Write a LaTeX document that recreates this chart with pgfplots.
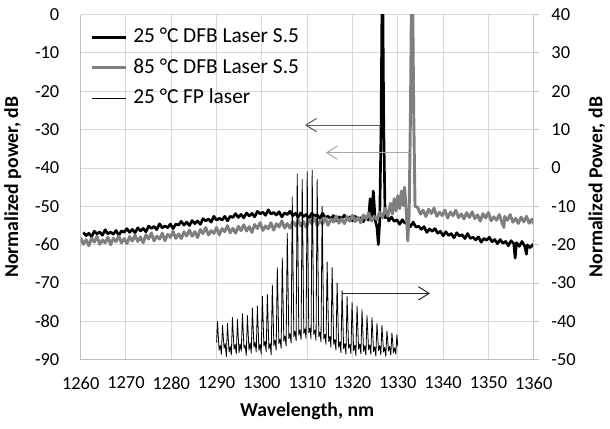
\documentclass[border=0pt]{standalone}
\usepackage{pgfplots}
\pgfplotsset{compat=1.18}
\usepackage{fontspec}
\setmainfont{Carlito}
\usetikzlibrary{arrows.meta}
\definecolor{gridgray}{HTML}{D9D9D9}
\definecolor{axisgray}{HTML}{BFBFBF}
\definecolor{hot}{HTML}{7F7F7F}
\newcommand\tickfont{\fontsize{13.8}{16}\selectfont}
\newcommand\labfont{\bfseries\fontsize{14.8}{17}\selectfont}
\newcommand\legfont{\fontsize{16}{18}\selectfont}

% DFB laser at 25 C (left axis)
\pgfplotstableread{
x y
1260.6 -56.8
1261.2 -57.65
1261.8 -57.0
1262.4 -57.95
1263.0 -56.5
1263.6 -57.15
1264.2 -56.7
1264.8 -57.55
1265.4 -56.1
1266.0 -57.15
1266.6 -56.7
1267.2 -57.25
1267.8 -56.3
1268.4 -57.55
1269.0 -56.4
1269.6 -56.75
1270.2 -55.8
1270.8 -56.8
1271.4 -56.0
1272.0 -56.9
1272.6 -55.6
1273.2 -56.4
1273.8 -55.75
1274.4 -56.65
1275.0 -55.15
1275.6 -55.75
1276.2 -55.25
1276.8 -56.05
1277.4 -54.55
1278.0 -55.6
1278.6 -55.1
1279.2 -55.6
1279.8 -54.6
1280.4 -55.8
1281.0 -54.6
1281.6 -54.9
1282.2 -53.9
1282.8 -54.9
1283.4 -54.1
1284.0 -55.0
1284.6 -53.7
1285.2 -54.5
1285.8 -53.8
1286.4 -54.7
1287.0 -53.2
1287.6 -53.8
1288.2 -53.3
1288.8 -54.1
1289.4 -52.6
1290.0 -53.6
1290.6 -53.1
1291.2 -53.6
1291.8 -52.6
1292.4 -53.8
1293.0 -52.6
1293.6 -52.9
1294.2 -51.9
1294.8 -52.9
1295.4 -52.1
1296.0 -53.0
1296.6 -51.7
1297.2 -52.5
1297.8 -51.8
1298.4 -52.75
1299.0 -51.3
1299.6 -51.95
1300.2 -51.5
1300.8 -52.35
1301.4 -50.9
1302.0 -52.0
1302.6 -51.6
1303.2 -52.25
1303.8 -51.4
1304.4 -52.75
1305.0 -51.7
1305.6 -52.15
1306.2 -51.3
1306.8 -52.45
1307.4 -51.8
1308.0 -52.85
1308.6 -51.7
1309.2 -52.65
1309.8 -52.1
1310.4 -53.15
1311.0 -51.8
1311.6 -52.55
1312.2 -52.2
1312.8 -53.15
1313.4 -51.8
1314.0 -52.95
1314.6 -52.6
1315.2 -53.25
1315.8 -52.4
1316.4 -53.75
1317.0 -52.7
1317.6 -53.15
1318.2 -52.3
1318.8 -53.4
1319.4 -52.75
1320.0 -53.8
1320.6 -52.6
1321.2 -53.55
1321.8 -53.0
1322.4 -54.0
1323.0 -52.65
1323.5 -53.6
1323.9 -48.0
1324.2 -53.0
1324.6 -46.0
1325.0 -53.5
1325.4 -55.5
1325.7 -60.0
1326.0 -54.0
1326.3 -30.0
1326.5 2.0
1326.7 2.0
1326.9 -30.0
1327.2 -53.0
1327.6 -52.0
1328.0 -53.8
1328.6 -52.8
1329.2 -53.9
1329.8 -53.5
1330.4 -54.7
1331.0 -53.5
1331.6 -54.4
1332.2 -54.2
1332.8 -55.3
1333.4 -54.1
1334.0 -55.4
1334.6 -55.2
1335.2 -56.0
1335.8 -55.3
1336.4 -56.8
1337.0 -55.9
1337.6 -56.5
1338.2 -55.8
1338.8 -57.0
1339.4 -56.5
1340.0 -57.7
1340.6 -56.6
1341.2 -57.6
1341.8 -57.1
1342.4 -58.2
1343.0 -56.9
1343.6 -57.7
1344.2 -57.4
1344.8 -58.4
1345.4 -57.1
1346.0 -58.35
1346.6 -58.05
1347.2 -58.75
1347.8 -57.95
1348.4 -59.35
1349.0 -58.35
1349.6 -58.85
1350.2 -58.05
1350.8 -59.25
1351.4 -58.65
1352.0 -59.75
1352.6 -58.65
1353.2 -59.65
1353.8 -59.15
1354.4 -60.25
1355.0 -58.95
1355.6 -59.75
1355.9 -63.5
1356.2 -59.45
1356.8 -60.45
1357.4 -59.15
1358.0 -60.35
1358.4 -62.5
1358.6 -60.05
1359.2 -60.75
1359.8 -59.95
1360.0 -60.6
}\dfbcold

% DFB laser at 85 C (left axis)
\pgfplotstableread{
x y
1260.0 -58.2
1260.6 -59.9
1261.2 -58.7
1261.8 -60.3
1262.4 -58.3
1263.0 -59.35
1263.6 -57.8
1264.2 -59.9
1264.8 -58.75
1265.4 -59.55
1266.0 -58.0
1266.6 -60.0
1267.2 -58.35
1267.8 -59.2
1268.4 -57.7
1269.0 -59.55
1269.6 -58.4
1270.2 -59.7
1270.8 -57.9
1271.4 -59.05
1272.0 -57.5
1272.6 -59.15
1273.2 -58.0
1273.8 -59.5
1274.4 -57.45
1275.0 -58.5
1275.6 -56.95
1276.2 -59.0
1276.8 -57.8
1277.4 -58.55
1278.0 -57.0
1278.6 -58.95
1279.2 -57.3
1279.8 -58.1
1280.4 -56.55
1281.0 -58.35
1281.6 -57.2
1282.2 -58.4
1282.8 -56.65
1283.4 -57.75
1284.0 -56.2
1284.6 -57.8
1285.2 -56.6
1285.8 -58.15
1286.4 -56.05
1287.0 -57.1
1287.6 -55.5
1288.2 -57.5
1288.8 -56.35
1289.4 -57.05
1290.0 -55.5
1290.6 -57.45
1291.2 -55.8
1291.8 -56.6
1292.4 -55.05
1293.0 -56.9
1293.6 -55.75
1294.2 -57.0
1294.8 -55.2
1295.4 -56.35
1296.0 -54.8
1296.6 -56.45
1297.2 -55.3
1297.8 -56.8
1298.4 -54.75
1299.0 -55.8
1299.6 -54.25
1300.2 -56.3
1300.8 -55.1
1301.4 -55.85
1302.0 -54.3
1302.6 -56.2
1303.2 -54.55
1303.8 -55.4
1304.4 -53.8
1305.0 -55.65
1305.6 -54.5
1306.2 -55.7
1306.8 -53.95
1307.4 -55.1
1308.0 -53.5
1308.6 -55.15
1309.2 -54.0
1309.8 -55.5
1310.4 -53.45
1311.0 -54.5
1311.6 -52.95
1312.2 -55.0
1312.8 -53.8
1313.4 -54.55
1314.0 -53.0
1314.6 -54.95
1315.2 -53.3
1315.8 -54.1
1316.4 -52.55
1317.0 -54.4
1317.6 -53.25
1318.2 -54.5
1318.8 -52.7
1319.4 -53.85
1320.0 -52.3
1320.6 -53.95
1321.2 -52.8
1321.8 -54.3
1322.4 -52.25
1323.0 -53.3
1323.6 -51.75
1324.2 -53.8
1324.8 -52.6
1325.4 -53.5
1326.0 -51.5
1326.6 -53.0
1327.2 -50.5
1327.8 -52.6
1328.4 -49.2
1328.8 -52.0
1329.2 -48.0
1329.6 -51.2
1330.0 -47.2
1330.4 -50.6
1330.8 -46.0
1331.2 -49.8
1331.5 -45.0
1331.9 -52.0
1332.2 -59.0
1332.5 -52.0
1332.8 -25.0
1333.0 2.0
1333.3 2.0
1333.5 -25.0
1333.8 -50.0
1334.4 -50.3
1335.0 -52.05
1335.6 -51.0
1336.2 -52.65
1336.8 -50.75
1337.4 -51.9
1338.0 -50.45
1338.6 -52.6
1339.2 -51.55
1339.8 -52.4
1340.4 -51.0
1341.0 -53.05
1341.6 -51.5
1342.2 -52.45
1342.8 -51.0
1343.4 -52.95
1344.0 -51.95
1344.6 -53.3
1345.2 -51.65
1345.8 -52.9
1346.4 -51.45
1347.0 -53.2
1347.6 -52.2
1348.2 -53.85
1348.8 -51.9
1349.4 -53.05
1350.0 -51.6
1350.6 -53.75
1351.2 -52.75
1351.8 -53.6
1352.4 -52.15
1353.0 -54.2
1353.4 -55.5
1353.6 -52.65
1354.2 -53.6
1354.8 -52.15
1355.4 -54.15
1356.0 -53.1
1356.6 -54.45
1357.2 -52.8
1357.8 -54.05
1358.4 -52.6
1359.0 -54.4
1359.6 -53.35
1360.0 -54.6
}\dfbhot

\begin{document}
\begin{tikzpicture}
\begin{axis}[
    scale only axis,
    width=339.75pt, height=258.75pt,
    xmin=1260, xmax=1360, ymin=-90, ymax=0,
    axis x line*=bottom, axis y line*=left,
    axis line style={draw=axisgray, line width=0.75pt, -},
    xtick={1260,1270,1280,1290,1300,1310,1320,1330,1340,1350,1360},
    xticklabels={1260,1270,1280,1290,1300,1310,1320,1330,1340,1350,1360},
    ytick={-90,-80,-70,-60,-50,-40,-30,-20,-10,0},
    yticklabels={-90,-80,-70,-60,-50,-40,-30,-20,-10,0},
    major tick length=0pt,
    grid=major,
    major grid style={draw=gridgray, line width=0.75pt},
    tick label style={font=\tickfont},
    xticklabel style={yshift=-9.3pt},
    yticklabel style={xshift=-12.5pt},
    xlabel={Wavelength, nm},
    ylabel={Normalized power, dB},
    xlabel style={at={(axis description cs:0.5,-0.1488)}, anchor=center, font=\labfont},
    ylabel style={at={(axis description cs:-0.150,0.5)}, anchor=center, font=\labfont},
]
\addplot[black, line width=2pt, line join=round] table[x=x, y=y] {\dfbcold};
\addplot[hot, line width=2.2pt, line join=round] table[x=x, y=y] {\dfbhot};
\coordinate (bl) at (rel axis cs:0,0);
\coordinate (tr) at (rel axis cs:1,1);
\end{axis}

\begin{axis}[
    scale only axis,
    width=339.75pt, height=258.75pt,
    xmin=1260, xmax=1360, ymin=-50, ymax=40,
    axis x line=none, axis y line*=right,
    axis line style={draw=axisgray, line width=0.75pt, -},
    ytick={-50,-40,-30,-20,-10,0,10,20,30,40},
    yticklabels={-50,-40,-30,-20,-10,0,10,20,30,40},
    tick align=outside,
    major tick length=3.75pt,
    ytick style={draw=axisgray, line width=0.75pt},
    tick label style={font=\tickfont},
    yticklabel style={xshift=6pt},
    ylabel={Normalized Power, dB},
    ylabel style={at={(axis description cs:1.139,0.5)}, anchor=center, font=\labfont},
    legend style={at={(axis description cs:0.022,0.966)}, anchor=north west, draw=none, fill=none,
        font=\legfont, row sep=6.5pt, inner sep=0pt,
        nodes={inner sep=0.6pt, text height=11.5pt, text depth=3.5pt},
        /tikz/every odd column/.append style={column sep=3.5pt}},
    legend cell align=left,
    legend image code/.code={\draw[#1] (0pt,0pt) -- (25.5pt,0pt);},
]
\addlegendimage{black, line width=2pt}
\addlegendentry{25 °C DFB Laser S.5}
\addlegendimage{hot, line width=2.2pt}
\addlegendentry{85 °C DFB Laser S.5}
% Fabry-Perot laser at 25 C (right axis)
\addplot[black, line width=0.6pt, line join=round] coordinates {
(1290.0,-45.5)(1290.2,-40.0)(1290.55,-47.5)(1290.8,-46.2)(1291.05,-48.6)
(1291.3,-41.0)(1291.65,-47.0)(1291.9,-45.8)(1292.15,-49.2)
(1292.4,-40.5)(1292.75,-48.0)(1293.0,-46.5)(1293.25,-48.8)
(1293.5,-39.0)(1293.85,-47.3)(1294.1,-46.0)(1294.35,-48.5)
(1294.6,-39.5)(1294.95,-48.2)(1295.2,-45.9)(1295.45,-47.8)
(1295.7,-38.0)(1296.05,-47.0)(1296.3,-46.2)(1296.55,-48.9)
(1296.8,-38.5)(1297.15,-47.5)(1297.4,-45.6)(1297.65,-48.3)
(1297.9,-36.5)(1298.25,-46.8)(1298.5,-45.4)(1298.75,-48.0)
(1299.0,-36.0)(1299.35,-47.6)(1299.6,-45.9)(1299.85,-48.6)
(1300.1,-33.5)(1300.45,-46.5)(1300.7,-45.2)(1300.95,-47.9)
(1301.2,-33.0)(1301.55,-47.2)(1301.8,-45.8)(1302.05,-48.7)
(1302.3,-30.5)(1302.65,-46.3)(1302.9,-44.9)(1303.15,-47.5)
(1303.4,-26.0)(1303.75,-45.8)(1304.0,-44.6)(1304.25,-47.0)
(1304.5,-23.5)(1304.85,-45.2)(1305.1,-43.8)(1305.35,-46.4)
(1305.6,-17.0)(1305.95,-44.5)(1306.2,-43.2)(1306.45,-45.6)
(1306.7,-7.5)(1307.05,-44.0)(1307.3,-42.5)(1307.55,-45.0)
(1307.8,-1.5)(1308.15,-43.6)(1308.4,-42.2)(1308.65,-44.8)
(1308.9,-3.0)(1309.25,-43.2)(1309.5,-42.0)(1309.75,-44.5)
(1310.0,-1.0)(1310.35,-43.0)(1310.6,-41.8)(1310.85,-44.6)
(1311.1,-0.5)(1311.45,-43.4)(1311.7,-42.3)(1311.95,-45.0)
(1312.2,-3.0)(1312.55,-44.0)(1312.8,-42.8)(1313.05,-45.4)
(1313.3,-10.0)(1313.65,-44.6)(1313.9,-43.4)(1314.15,-46.0)
(1314.4,-24.5)(1314.75,-45.3)(1315.0,-44.0)(1315.25,-46.8)
(1315.5,-26.0)(1315.85,-46.0)(1316.1,-44.8)(1316.35,-47.5)
(1316.6,-30.0)(1316.95,-46.8)(1317.2,-45.3)(1317.45,-48.2)
(1317.7,-32.0)(1318.05,-47.2)(1318.3,-45.8)(1318.55,-48.6)
(1318.8,-33.5)(1319.15,-47.0)(1319.4,-46.0)(1319.65,-48.4)
(1319.9,-35.0)(1320.25,-47.6)(1320.5,-46.2)(1320.75,-48.9)
(1321.0,-36.0)(1321.35,-47.3)(1321.6,-45.9)(1321.85,-48.5)
(1322.1,-37.0)(1322.45,-47.8)(1322.7,-46.4)(1322.95,-48.8)
(1323.2,-38.5)(1323.55,-47.4)(1323.8,-46.1)(1324.05,-48.6)
(1324.3,-39.0)(1324.65,-47.9)(1324.9,-46.6)(1325.15,-49.0)
(1325.4,-40.5)(1325.75,-47.6)(1326.0,-46.3)(1326.25,-48.7)
(1326.5,-41.0)(1326.85,-48.0)(1327.1,-46.8)(1327.35,-49.1)
(1327.6,-42.5)(1327.95,-47.7)(1328.2,-46.5)(1328.45,-48.8)
(1328.7,-43.0)(1329.05,-48.2)(1329.3,-46.9)(1329.55,-48.6)
(1329.8,-43.5)(1330.0,-46.5)
};
\addlegendentry{25 °C FP laser}
% arrows pointing to the axis each trace belongs to
\draw[black!65, line width=0.75pt, -{Straight Barb[length=8pt, width=10pt]}]
    (axis cs:1326.2,11.2) -- (axis cs:1309.5,11.2);
\draw[black!35, line width=0.75pt, -{Straight Barb[length=8pt, width=10pt]}]
    (axis cs:1332.8,4.0) -- (axis cs:1314.1,4.0);
\draw[black!85, line width=0.75pt, -{Straight Barb[length=8pt, width=10pt]}]
    (axis cs:1317.6,-32.7) -- (axis cs:1337.1,-32.7);
\end{axis}
\pgfresetboundingbox
\path[use as bounding box] ([xshift=-60.5pt, yshift=-51.45pt]bl) rectangle ([xshift=57.2pt, yshift=11pt]tr);
\end{tikzpicture}
\end{document}
